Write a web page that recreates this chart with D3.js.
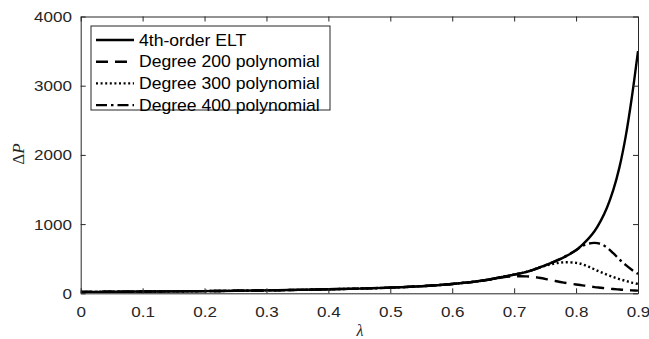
<!DOCTYPE html>
<html><head><meta charset="utf-8">
<script src="https://cdn.jsdelivr.net/npm/d3@7"></script>
<style>body{margin:0;background:#fff}svg{display:block}</style>
</head><body>
<svg id="c" width="649" height="339"></svg>
<script>
const lambda = [0,0.05,0.1,0.15,0.2,0.25,0.3,0.35,0.4,0.45,0.5,0.55,0.6,0.65,0.68,0.7,0.72,0.74,0.76,0.78,0.8,0.81,0.82,0.83,0.84,0.85,0.86,0.87,0.88,0.89,0.9];
const elt   = [20,22,25,28,32,36,42,49,58,68,82,102,135,185,235,270,310,370,440,520,620,700,790,900,1050,1240,1490,1820,2260,2830,3500];
const deg200= [20,22,25,28,32,36,42,49,58,68,82,102,135,185,228,245,245,225,190,155,128,115,102,90,80,70,62,55,48,43,38];
const deg300= [20,22,25,28,32,36,42,49,58,68,82,102,135,185,235,270,310,370,420,448,440,420,385,345,305,268,235,205,180,155,135];
const deg400= [20,22,25,28,32,36,42,49,58,68,82,102,135,185,235,270,310,370,440,520,625,685,718,728,712,660,580,490,410,340,280];
const seriesNames = ["4th-order ELT","Degree 200 polynomial","Degree 300 polynomial","Degree 400 polynomial"];
const xTicks = [0,0.1,0.2,0.3,0.4,0.5,0.6,0.7,0.8,0.9];
const yTicks = [0,1000,2000,3000,4000];

(function(){
const svg = d3.select("#c");
const L=80.7, R=638, T=16.5, B=293.3;
const x = d3.scaleLinear().domain([0,0.9]).range([L,R]);
const y = d3.scaleLinear().domain([0,4000]).range([B,T]);
const axCol = "#262626";
const font = "'Liberation Sans', Arial, sans-serif";

const styles = [
  {dash:null, w:2.4},
  {dash:"12,7", w:2.4},
  {dash:"2,2.6", w:2.4},
  {dash:"11,4,2.5,4", w:2.4}
];
const data = [elt,deg200,deg300,deg400];

svg.append("clipPath").attr("id","pc").append("rect")
  .attr("x",L).attr("y",T).attr("width",R-L).attr("height",B-T);

const line = d3.line().x((d,i)=>x(lambda[i])).y(d=>y(d)).curve(d3.curveCatmullRom);
const g = svg.append("g").attr("clip-path","url(#pc)");
[3,2,1,0].forEach(k=>{
  g.append("path").datum(data[k]).attr("d",line).attr("fill","none")
   .attr("stroke","#000").attr("stroke-width",styles[k].w)
   .attr("stroke-dasharray",styles[k].dash);
});

const axB = svg.append("g").attr("transform",`translate(0,${B})`)
  .call(d3.axisBottom(x).tickValues(xTicks).tickFormat(d=>d===0?"0":d3.format(".1f")(d)).tickSizeInner(-5).tickSizeOuter(0).tickPadding(13));
const axT = svg.append("g").attr("transform",`translate(0,${T})`)
  .call(d3.axisTop(x).tickValues(xTicks).tickFormat("").tickSizeInner(-5).tickSizeOuter(0));
const axL = svg.append("g").attr("transform",`translate(${L},0)`)
  .call(d3.axisLeft(y).tickValues(yTicks).tickFormat(d3.format("d")).tickSizeInner(-5).tickSizeOuter(0).tickPadding(9));
const axR = svg.append("g").attr("transform",`translate(${R},0)`)
  .call(d3.axisRight(y).tickValues(yTicks).tickFormat("").tickSizeInner(-5).tickSizeOuter(0));
[axB,axT,axL,axR].forEach(a=>{
  a.selectAll("path.domain").attr("stroke",axCol).attr("stroke-width",1);
  a.selectAll(".tick line").attr("stroke",axCol).attr("stroke-width",1);
  a.selectAll("text").attr("fill",axCol).style("font-family",font).style("font-size","15.5px");
});
axB.selectAll(".tick text").attr("transform","scale(1.1,1)");
axL.selectAll(".tick text").attr("x",-8).attr("transform","scale(1.1,1)");

svg.append("text").attr("x",360).attr("y",336).attr("text-anchor","middle")
  .style("font-family","'Liberation Serif', 'DejaVu Serif', serif").style("font-style","italic").style("font-size","16px").attr("fill",axCol).text("λ");
const yl = svg.append("text").attr("transform","translate(24,154) rotate(-90)").attr("text-anchor","middle")
  .style("font-family","'Liberation Serif', 'DejaVu Serif', serif").style("font-size","17px").attr("fill",axCol);
yl.append("tspan").text("Δ");
yl.append("tspan").style("font-style","italic").text("P");

const lg = svg.append("g");
lg.append("rect").attr("x",91).attr("y",26).attr("width",239).attr("height",84)
  .attr("fill","#fff").attr("stroke",axCol).attr("stroke-width",1);
seriesNames.forEach((n,i)=>{
  const cy = 40 + i*21.7;
  lg.append("line").attr("x1",96).attr("x2",134).attr("y1",cy).attr("y2",cy)
    .attr("stroke","#000").attr("stroke-width",styles[i].w).attr("stroke-dasharray",styles[i].dash);
  lg.append("text").attr("transform",`translate(139,${cy}) scale(1.1,1)`).attr("dy","0.35em")
    .style("font-family",font).style("font-size","16px").attr("fill","#000").text(n);
});
})();
</script>
</body></html>
